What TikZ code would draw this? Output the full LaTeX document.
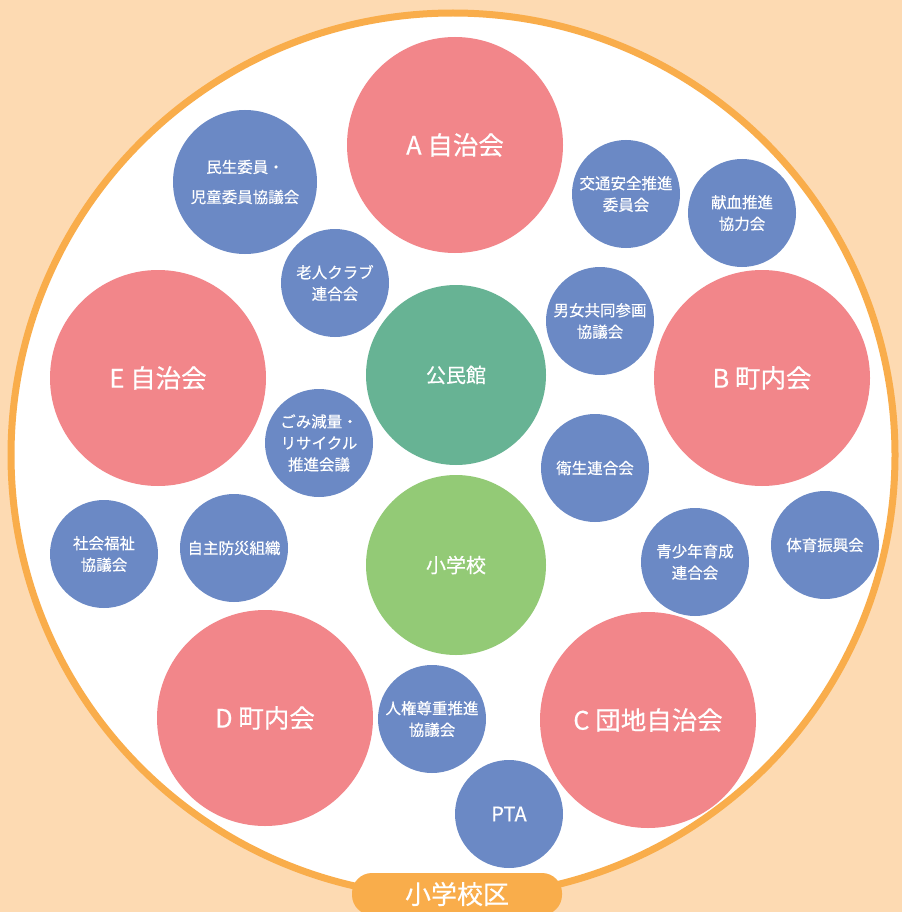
\documentclass[tikz,border=0pt]{standalone}
\usepackage{fontspec}
\setmainfont{Noto Sans CJK JP}[BoldFont={Noto Sans CJK JP}, BoldFeatures={FakeBold=0.35}]
\definecolor{bgpeach}{HTML}{FDDAB2}
\definecolor{rimorange}{HTML}{F9AD4B}
\definecolor{townred}{HTML}{F2868A}
\definecolor{groupblue}{HTML}{6B89C5}
\definecolor{hallgreen}{HTML}{67B394}
\definecolor{schoolgreen}{HTML}{93CA76}
\tikzset{
  disc/.style={circle, inner sep=0pt, text=white, align=center},
  townc/.style={disc, fill=townred, minimum size=216pt, font=\fontsize{25.5}{28}\selectfont\bfseries},
  centerc/.style={disc, minimum size=180pt, font=\fontsize{20}{24}\selectfont\bfseries},
  groupc/.style={disc, fill=groupblue, minimum size=108pt, font=\fontsize{15.5}{21.5}\selectfont\bfseries},
}
\begin{document}
\begin{tikzpicture}[x=1pt,y=-1pt]
\fill[bgpeach] (0,0) rectangle (902,912);
\useasboundingbox (0,0) rectangle (902,912);
\draw[rimorange, fill=white, line width=7pt] (453,455) circle (442);
% towns
\node[townc] (A) at (455,145) {A 自治会};
\node[townc] (E) at (158,378) {E 自治会};
\node[townc] (B) at (762,378) {B 町内会};
\node[townc] (D) at (265,718) {D 町内会};
\node[townc] (C) at (648,720) {C 団地自治会};
% centre
\node[centerc, fill=hallgreen] (hall) at (456,375) {公民館};
\node[centerc, fill=schoolgreen] (school) at (456,565) {小学校};
% groups
\node[groupc, minimum size=144pt, font=\fontsize{15.5}{30}\selectfont\bfseries] (minsei) at (245,182) {民生委員・\\児童委員協議会};
\node[groupc] (rojin) at (335,283) {老人クラブ\\連合会};
\node[groupc] (kotsu) at (626,194) {交通安全推進\\委員会};
\node[groupc] (kenketsu) at (742,213) {献血推進\\協力会};
\node[groupc] (danjo) at (600,321) {男女共同参画\\協議会};
\node[groupc] (gomi) at (319,443) {ごみ減量・\\リサイクル\\推進会議};
\node[groupc] (eisei) at (595,468) {衛生連合会};
\node[groupc] (shakai) at (104,554) {社会福祉\\協議会};
\node[groupc] (bosai) at (234,548) {自主防災組織};
\node[groupc] (seishonen) at (695,562) {青少年育成\\連合会};
\node[groupc] (taiiku) at (825,545) {体育振興会};
\node[groupc] (jinken) at (432,719) {人権尊重推進\\協議会};
\node[groupc, font=\fontsize{20}{24}\selectfont\bfseries] (pta) at (509,814) {PTA};
% district label
\node[fill=rimorange, rounded corners=20pt, minimum width=210pt, minimum height=42pt, inner sep=0pt, text=white, font=\fontsize{26}{28}\selectfont\bfseries] (ku) at (457,894) {小学校区};
\end{tikzpicture}
\end{document}
